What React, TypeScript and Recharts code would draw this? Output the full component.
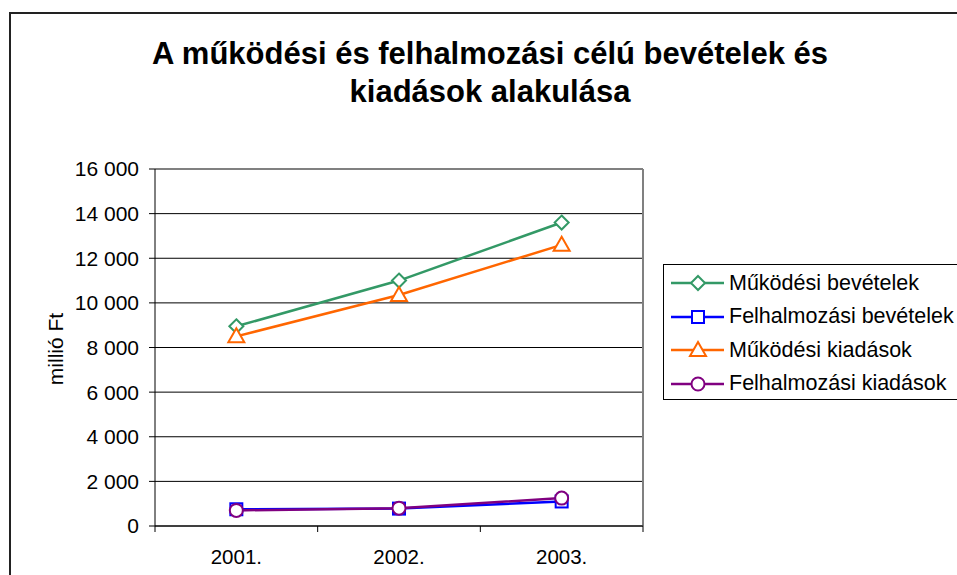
import React from 'react';
import {
  LineChart,
  Line,
  XAxis,
  YAxis,
  CartesianGrid,
  ReferenceLine,
} from 'recharts';

const FONT = '"Liberation Sans", Arial, sans-serif';

// years on the category axis
const years = ['2001.', '2002.', '2003.'];

// values in millió Ft
const mukodesiBevetelek = [8950, 11000, 13600];
const felhalmozasiBevetelek = [750, 780, 1100];
const mukodesiKiadasok = [8500, 10350, 12600];
const felhalmozasiKiadasok = [700, 800, 1250];

const yTicks = [0, 2000, 4000, 6000, 8000, 10000, 12000, 14000, 16000];

const data = years.map((year, i) => ({
  x: i + 0.5,
  year,
  mb: mukodesiBevetelek[i],
  fb: felhalmozasiBevetelek[i],
  mk: mukodesiKiadasok[i],
  fk: felhalmozasiKiadasok[i],
}));

// ticks at category borders (integers) and labels in the middle (halves)
const xTicks = [0, 0.5, 1, 1.5, 2, 2.5, 3];

type Marker = 'diamond' | 'square' | 'triangle' | 'circle';

const series: { key: string; name: string; color: string; marker: Marker }[] = [
  { key: 'mb', name: 'Működési bevételek', color: '#339966', marker: 'diamond' },
  { key: 'fb', name: 'Felhalmozási bevételek', color: '#0000FF', marker: 'square' },
  { key: 'mk', name: 'Működési kiadások', color: '#FF6600', marker: 'triangle' },
  { key: 'fk', name: 'Felhalmozási kiadások', color: '#800080', marker: 'circle' },
];

const formatThousands = (v: number) =>
  String(v).replace(/\B(?=(\d{3})+(?!\d))/g, ' ');

const MarkerShape = ({
  cx,
  cy,
  marker,
  color,
}: {
  cx: number;
  cy: number;
  marker: Marker;
  color: string;
}) => {
  const common = { fill: '#fff', stroke: color, strokeWidth: 2 };
  switch (marker) {
    case 'diamond':
      return (
        <polygon
          points={`${cx},${cy - 7} ${cx + 7},${cy} ${cx},${cy + 7} ${cx - 7},${cy}`}
          {...common}
        />
      );
    case 'square':
      return <rect x={cx - 6} y={cy - 6} width={12} height={12} {...common} />;
    case 'triangle':
      return (
        <polygon
          points={`${cx},${cy - 8} ${cx + 8},${cy + 6} ${cx - 8},${cy + 6}`}
          {...common}
        />
      );
    default:
      return <circle cx={cx} cy={cy} r={6.5} {...common} />;
  }
};

const TICK_SIZE = 6;
const TICK_MARGIN = 2;

const XTick = (props: any) => {
  const { x, y, payload } = props;
  const v = payload.value as number;
  const axisY = y - TICK_SIZE - TICK_MARGIN;
  if (Number.isInteger(v)) {
    return <line x1={x} x2={x} y1={axisY} y2={axisY + TICK_SIZE} stroke="#000" />;
  }
  const label = years[Math.floor(v)];
  return (
    <text
      x={x}
      y={axisY + 38}
      textAnchor="middle"
      fontSize={20.5}
      fontFamily={FONT}
      fill="#000"
    >
      {label}
    </text>
  );
};

const LegendBox = () => (
  <div
    style={{
      position: 'absolute',
      left: 663,
      top: 264,
      width: 320,
      height: 134,
      border: '1px solid #000',
      background: '#fff',
    }}
  >
    {series.map((s, i) => (
      <div
        key={s.key}
        style={{
          position: 'absolute',
          left: 0,
          top: 1 + i * 33.5,
          height: 34,
          display: 'flex',
          alignItems: 'center',
        }}
      >
        <svg width={65} height={34}>
          <line x1={7} x2={60} y1={17} y2={17} stroke={s.color} strokeWidth={2.5} />
          <MarkerShape cx={34} cy={17} marker={s.marker} color={s.color} />
        </svg>
        <span
          style={{
            fontFamily: FONT,
            fontSize: 21.5,
            color: '#000',
            whiteSpace: 'nowrap',
          }}
        >
          {s.name}
        </span>
      </div>
    ))}
  </div>
);

export default function App() {
  return (
    <div
      style={{
        position: 'absolute',
        left: 0,
        top: 0,
        width: 957,
        height: 575,
        overflow: 'hidden',
        background: '#fff',
      }}
    >
      <div
        style={{
          position: 'absolute',
          left: 9,
          top: 12,
          width: 1000,
          height: 700,
          border: '2px solid #222',
        }}
      />
      <div
        style={{
          position: 'absolute',
          left: 0,
          top: 35,
          width: 980,
          textAlign: 'center',
          fontFamily: FONT,
          fontWeight: 'bold',
          fontSize: 31,
          lineHeight: '38px',
          color: '#000',
        }}
      >
        A működési és felhalmozási célú bevételek és
        <br />
        kiadások alakulása
      </div>
      <div
        style={{
          position: 'absolute',
          left: 56,
          top: 349,
          width: 0,
          height: 0,
        }}
      >
        <div
          style={{
            position: 'absolute',
            left: 0,
            top: 0,
            transform: 'translate(-50%, -50%) rotate(-90deg)',
            fontFamily: FONT,
            fontSize: 21,
            lineHeight: '22px',
            whiteSpace: 'nowrap',
            color: '#000',
          }}
        >
          millió Ft
        </div>
      </div>
      <div style={{ position: 'absolute', left: 0, top: 0 }}>
        <LineChart
          width={957}
          height={575}
          data={data}
          margin={{ top: 169, right: 314, bottom: 19, left: 95 }}
        >
          <CartesianGrid vertical={false} stroke="#000" />
          <XAxis
            dataKey="x"
            type="number"
            domain={[0, 3]}
            ticks={xTicks}
            interval={0}
            height={30}
            tickLine={false}
            tickSize={TICK_SIZE}
            tickMargin={TICK_MARGIN}
            axisLine={{ stroke: '#000' }}
            tick={<XTick />}
          />
          <YAxis
            domain={[0, 16000]}
            ticks={yTicks}
            interval={0}
            width={60}
            tickSize={TICK_SIZE}
            tickMargin={10}
            axisLine={{ stroke: '#000' }}
            tickLine={{ stroke: '#000' }}
            tickFormatter={formatThousands}
            tick={{ fontSize: 21, fontFamily: FONT, fill: '#000' }}
          />
          <ReferenceLine y={16000} stroke="#808080" strokeWidth={2} />
          <ReferenceLine x={3} stroke="#808080" strokeWidth={2} />
          {series.map((s) => (
            <Line
              key={s.key}
              dataKey={s.key}
              name={s.name}
              type="linear"
              stroke={s.color}
              strokeWidth={2.5}
              isAnimationActive={false}
              dot={(p: any) => (
                <MarkerShape
                  key={`${s.key}-${p.index}`}
                  cx={p.cx}
                  cy={p.cy}
                  marker={s.marker}
                  color={s.color}
                />
              )}
            />
          ))}
        </LineChart>
      </div>
      <LegendBox />
    </div>
  );
}
